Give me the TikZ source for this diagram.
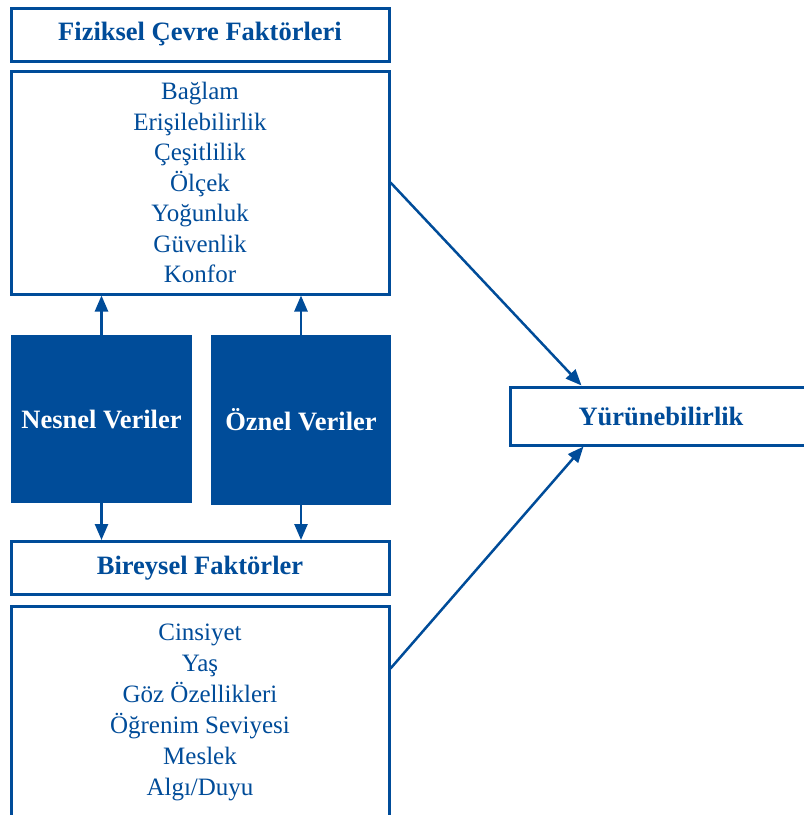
\documentclass[tikz,border=0pt]{standalone}
\usepackage{fontspec}
\setmainfont{Liberation Serif}
\usetikzlibrary{arrows.meta}
\definecolor{kutumavi}{RGB}{0,76,153}
\begin{document}
\begin{tikzpicture}[x=1pt,y=-1pt]
	\useasboundingbox (0,0) rectangle (804,815);
	\tikzstyle{Baslik} = [rectangle, draw=kutumavi, line width=3pt, fill=white, text=kutumavi, font=\fontsize{26.5}{30}\selectfont\bfseries, inner sep=0pt]
	\tikzstyle{Liste} = [rectangle, draw=kutumavi, line width=3pt, fill=white, text=kutumavi, align=center, minimum width=378, inner sep=0pt]
	\tikzstyle{Veri} = [rectangle, fill=kutumavi, text=white, font=\fontsize{26.5}{30}\selectfont\bfseries, inner sep=0pt]
	\tikzstyle{Ok} = [draw=kutumavi, line width=2.5pt, -{Triangle[length=16pt,width=13pt]}]
	\node (fiziksel) at (200,34.5) [Baslik, minimum width=378, minimum height=53] {Fiziksel Çevre Faktörleri};
	\node (cevre) at (200,182.5) [Liste, minimum height=223, font=\fontsize{25}{30.5}\selectfont] {Bağlam\\Erişilebilirlik\\Çeşitlilik\\Ölçek\\Yoğunluk\\Güvenlik\\Konfor};
	\node (nesnel) at (101.5,419) [Veri, minimum width=181, minimum height=168] {Nesnel Veriler};
	\node (oznel) at (301,420) [Veri, minimum width=180, minimum height=170] {Öznel Veriler};
	\node (bireysel) at (200,568) [Baslik, minimum width=378, minimum height=53] {Bireysel Faktörler};
	\node (birey) at (200,712.5) [Liste, minimum height=213, font=\fontsize{25}{31}\selectfont] {Cinsiyet\\Yaş\\Göz Özellikleri\\Öğrenim Seviyesi\\Meslek\\Algı/Duyu};
	\node (yurunebilirlik) at (661,416) [Baslik, minimum width=302, minimum height=58] {Yürünebilirlik};
	\draw [Ok] (nesnel.north) to (nesnel.north |- cevre.south);
	\draw [Ok] (oznel.north) to (oznel.north |- cevre.south);
	\draw [Ok] (nesnel.south) to (nesnel.south |- bireysel.north);
	\draw [Ok] (oznel.south) to (oznel.south |- bireysel.north);
	\draw [Ok] (cevre.east) to ([xshift=73pt]yurunebilirlik.north west);
	\draw [Ok] ([yshift=44pt]birey.east) to ([xshift=75pt]yurunebilirlik.south west);
\end{tikzpicture}
\end{document}
